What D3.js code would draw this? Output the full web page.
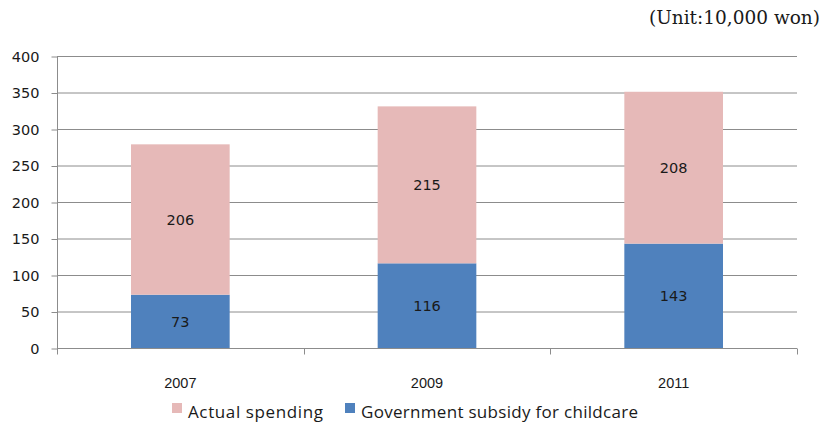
<!DOCTYPE html>
<html><head><meta charset="utf-8">
<script src="https://cdn.jsdelivr.net/npm/d3@7"></script>
<style>body{margin:0;background:#fff;} svg{display:block;}</style>
</head><body>
<svg id="c" width="825" height="425"></svg>
<script>
const years = ["2007", "2009", "2011"];
const subsidy = [73, 116, 143];
const actual = [206, 215, 208];
const yTicks = [0, 50, 100, 150, 200, 250, 300, 350, 400];
const seriesNames = ["Actual spending", "Government subsidy for childcare"];
const unitLabel = "(Unit:10,000 won)";

const svg = d3.select("#c");
const L = 57, R = 797, T = 56, B = 348;
const x = d3.scaleBand().domain(years).range([L, R]).paddingInner(0.6).paddingOuter(0.3);
const y = d3.scaleLinear().domain([0, 400]).range([B, T]);

const grid = "#8c8c8c";
// gridlines
svg.append("g").selectAll("line").data(yTicks.filter(d => d > 0)).join("line")
  .attr("x1", L).attr("x2", R).attr("y1", d => y(d) + 0.5).attr("y2", d => y(d) + 0.5)
  .attr("stroke", grid).attr("stroke-width", 1);

// y axis
const yAxis = svg.append("g").attr("transform", `translate(${L + 0.5},0.5)`)
  .call(d3.axisLeft(y).tickValues(yTicks).tickSize(6).tickPadding(12));
yAxis.select(".domain").attr("stroke", grid).attr("d", `M0,${T}V${B}`);
yAxis.selectAll(".tick line").attr("stroke", grid);
yAxis.selectAll("text").attr("font-family", "DejaVu Sans").attr("font-size", 14.5).attr("fill", "#1a1a1a");

// stacked data
const stackData = years.map((yr, i) => ({year: yr, subsidy: subsidy[i], actual: actual[i]}));
const stack = d3.stack().keys(["subsidy", "actual"])(stackData);
const colors = {subsidy: "#4f81bd", actual: "#e6b9b8"};

svg.append("g").selectAll("g").data(stack).join("g")
  .attr("fill", d => colors[d.key])
  .selectAll("rect").data(d => d).join("rect")
  .attr("x", d => x(d.data.year)).attr("width", x.bandwidth())
  .attr("y", d => y(d[1])).attr("height", d => y(d[0]) - y(d[1]));

// value labels
svg.append("g").selectAll("g").data(stack).join("g")
  .selectAll("text").data(d => d.map(v => ({v, key: d.key}))).join("text")
  .attr("x", d => x(d.v.data.year) + x.bandwidth() / 2)
  .attr("y", d => (y(d.v[0]) + y(d.v[1])) / 2)
  .attr("dy", "0.36em").attr("text-anchor", "middle")
  .attr("font-family", "DejaVu Sans").attr("font-size", 14.5).attr("fill", "#1a1a1a")
  .text(d => d.v.data[d.key]);

// x axis
const xAxisLine = svg.append("g").attr("transform", `translate(0,${B + 0.5})`);
xAxisLine.append("line").attr("x1", L).attr("x2", R).attr("stroke", grid);
const xt = d3.scalePoint().domain(d3.range(years.length + 1)).range([L, R]);
xAxisLine.selectAll("line.t").data(xt.domain()).join("line").attr("class", "t")
  .attr("x1", d => Math.round(xt(d)) + 0.5).attr("x2", d => Math.round(xt(d)) + 0.5)
  .attr("y1", 0).attr("y2", 6).attr("stroke", grid);
svg.append("g").selectAll("text").data(years).join("text")
  .attr("x", d => x(d) + x.bandwidth() / 2).attr("y", 388)
  .attr("text-anchor", "middle").attr("font-family", "Liberation Sans").attr("font-size", 14.5)
  .attr("fill", "#1a1a1a").text(d => d);

// legend
const leg = svg.append("g");
const legItems = [{name: seriesNames[0], color: colors.actual, x: 172, w: 135}, {name: seriesNames[1], color: colors.subsidy, x: 345, w: 277}];
legItems.forEach(it => {
  leg.append("rect").attr("x", it.x).attr("y", 403).attr("width", 10).attr("height", 10).attr("fill", it.color);
  leg.append("text").attr("x", it.x + 16).attr("y", 418).attr("font-family", "Open Sans").attr("font-size", 17)
    .attr("textLength", it.w).attr("lengthAdjust", "spacing")
    .attr("fill", "#1a1a1a").text(it.name);
});

// unit label
svg.append("text").attr("x", 820).attr("y", 24).attr("text-anchor", "end")
  .attr("font-family", "DejaVu Serif").attr("font-size", 18.5).attr("fill", "#1a1a1a").text(unitLabel);
</script>
</body></html>
